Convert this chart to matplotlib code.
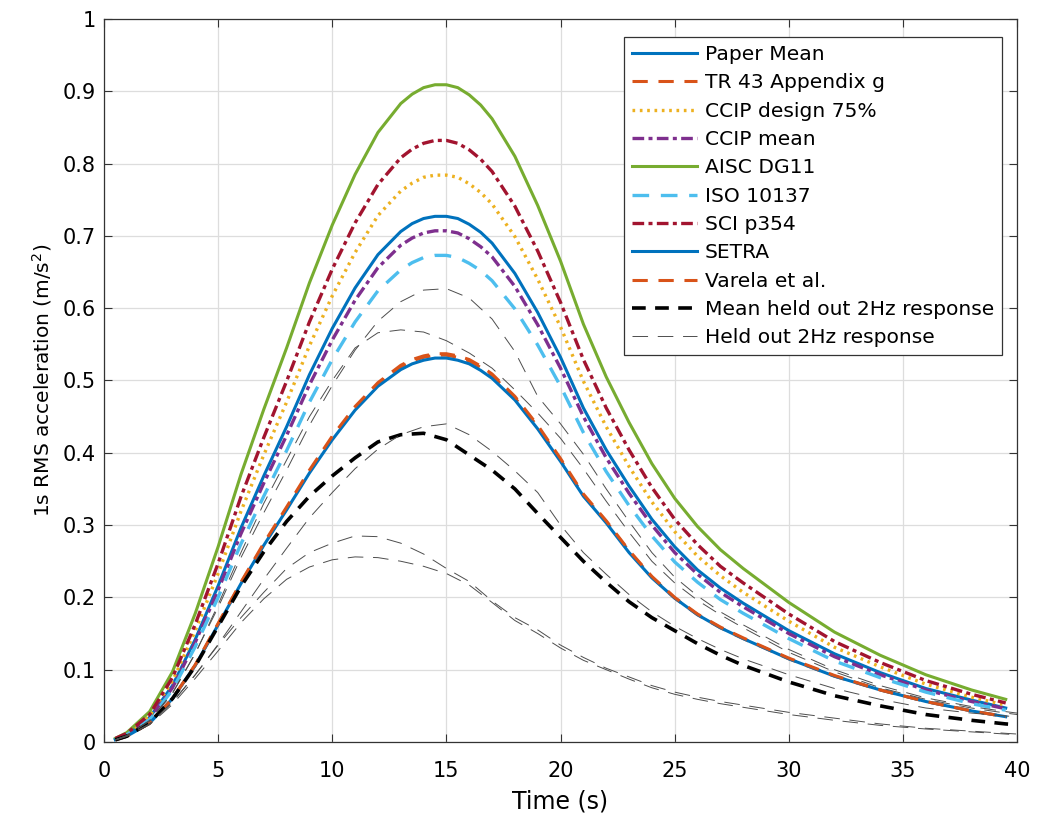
import matplotlib
matplotlib.use("Agg")
import matplotlib.pyplot as plt

plt.rcParams['font.family'] = ['DejaVu Sans']

# temps des courbes de dimensionnement (s)
t_design = [0.5, 1, 2, 3, 4, 5, 6, 7, 8, 9, 10, 11, 12, 13, 13.5, 14, 14.5, 15, 15.5, 16,
            16.5, 17, 18, 19, 20, 21, 22, 23, 24, 25, 26, 27, 28, 30, 32, 34, 36, 38, 39.5]
# temps des reponses mesurees (s)
t_held = [0.5, 1, 2, 3, 4, 5, 6, 7, 8, 9, 10, 11, 12, 13, 14, 15, 16, 17, 18, 19,
          20, 21, 22, 23, 24, 25, 26, 27, 28, 30, 32, 34, 36, 38, 39.5, 40]

paper_mean = [0.004, 0.010, 0.034, 0.078, 0.142, 0.216, 0.296, 0.368, 0.436, 0.508,
              0.572, 0.628, 0.674, 0.706, 0.717, 0.724, 0.727, 0.727, 0.724, 0.716,
              0.705, 0.690, 0.648, 0.594, 0.532, 0.462, 0.404, 0.354, 0.308, 0.270,
              0.238, 0.213, 0.192, 0.154, 0.122, 0.096, 0.074, 0.058, 0.047]
tr43 = [0.003, 0.008, 0.026, 0.060, 0.106, 0.163, 0.220, 0.273, 0.323, 0.374,
        0.421, 0.462, 0.495, 0.519, 0.527, 0.532, 0.535, 0.535, 0.532, 0.527,
        0.518, 0.507, 0.476, 0.436, 0.390, 0.341, 0.305, 0.264, 0.228, 0.199,
        0.176, 0.158, 0.143, 0.115, 0.091, 0.072, 0.056, 0.043, 0.035]
ccip_design = [0.004, 0.011, 0.036, 0.084, 0.154, 0.233, 0.319, 0.397, 0.470, 0.548,
               0.617, 0.677, 0.728, 0.762, 0.773, 0.781, 0.784, 0.784, 0.781, 0.772,
               0.760, 0.744, 0.699, 0.640, 0.574, 0.499, 0.436, 0.381, 0.332, 0.291,
               0.257, 0.230, 0.207, 0.167, 0.131, 0.104, 0.080, 0.062, 0.051]
ccip_mean = [0.004, 0.010, 0.033, 0.075, 0.138, 0.210, 0.288, 0.358, 0.424, 0.494,
             0.556, 0.611, 0.656, 0.687, 0.697, 0.704, 0.707, 0.707, 0.704, 0.696,
             0.685, 0.671, 0.630, 0.577, 0.517, 0.450, 0.393, 0.344, 0.300, 0.262,
             0.232, 0.207, 0.187, 0.150, 0.118, 0.093, 0.072, 0.056, 0.046]
aisc = [0.005, 0.013, 0.042, 0.097, 0.178, 0.270, 0.370, 0.460, 0.545, 0.635,
        0.715, 0.785, 0.843, 0.883, 0.896, 0.905, 0.909, 0.909, 0.905, 0.895,
        0.881, 0.862, 0.810, 0.742, 0.665, 0.578, 0.505, 0.442, 0.385, 0.337,
        0.298, 0.266, 0.240, 0.193, 0.152, 0.120, 0.093, 0.072, 0.059]
iso = [0.004, 0.010, 0.031, 0.072, 0.132, 0.200, 0.274, 0.340, 0.403, 0.470,
       0.529, 0.581, 0.624, 0.653, 0.663, 0.670, 0.673, 0.673, 0.670, 0.662,
       0.652, 0.638, 0.599, 0.549, 0.492, 0.428, 0.374, 0.327, 0.285, 0.249,
       0.221, 0.197, 0.178, 0.143, 0.112, 0.089, 0.069, 0.053, 0.044]
sci = [0.005, 0.012, 0.038, 0.089, 0.163, 0.247, 0.339, 0.421, 0.499, 0.581,
       0.654, 0.718, 0.771, 0.808, 0.820, 0.828, 0.832, 0.832, 0.828, 0.819,
       0.806, 0.789, 0.741, 0.679, 0.608, 0.529, 0.462, 0.404, 0.352, 0.308,
       0.273, 0.243, 0.220, 0.177, 0.139, 0.110, 0.085, 0.066, 0.054]
setra = [0.003, 0.008, 0.026, 0.060, 0.106, 0.162, 0.219, 0.272, 0.321, 0.372,
         0.418, 0.459, 0.492, 0.515, 0.523, 0.528, 0.531, 0.531, 0.528, 0.523,
         0.514, 0.503, 0.473, 0.433, 0.388, 0.340, 0.303, 0.262, 0.227, 0.199,
         0.176, 0.158, 0.143, 0.115, 0.091, 0.072, 0.056, 0.043, 0.035]
varela = [0.003, 0.008, 0.026, 0.060, 0.107, 0.164, 0.221, 0.275, 0.325, 0.376,
          0.423, 0.464, 0.497, 0.521, 0.529, 0.534, 0.537, 0.537, 0.534, 0.529,
          0.520, 0.509, 0.478, 0.438, 0.392, 0.343, 0.306, 0.265, 0.229, 0.200,
          0.177, 0.159, 0.144, 0.116, 0.092, 0.072, 0.056, 0.043, 0.035]

mean_held = [0.003, 0.008, 0.027, 0.060, 0.105, 0.160, 0.215, 0.263, 0.305, 0.340,
             0.368, 0.393, 0.415, 0.425, 0.427, 0.418, 0.397, 0.376, 0.350, 0.316,
             0.283, 0.250, 0.221, 0.194, 0.172, 0.154, 0.136, 0.120, 0.106, 0.083,
             0.064, 0.050, 0.038, 0.030, 0.025, 0.024]
held_1 = [0.003, 0.009, 0.029, 0.067, 0.123, 0.186, 0.255, 0.317, 0.376, 0.438,
          0.493, 0.542, 0.582, 0.609, 0.625, 0.627, 0.614, 0.585, 0.540, 0.478,
          0.440, 0.398, 0.350, 0.305, 0.262, 0.228, 0.202, 0.180, 0.162, 0.128,
          0.100, 0.078, 0.061, 0.049, 0.042, 0.040]
held_2 = [0.003, 0.009, 0.030, 0.068, 0.122, 0.190, 0.262, 0.330, 0.390, 0.450,
          0.500, 0.545, 0.566, 0.570, 0.567, 0.555, 0.538, 0.517, 0.487, 0.455,
          0.420, 0.378, 0.333, 0.290, 0.250, 0.220, 0.196, 0.176, 0.158, 0.124,
          0.097, 0.075, 0.059, 0.047, 0.040, 0.038]
held_3 = [0.003, 0.008, 0.025, 0.055, 0.093, 0.135, 0.180, 0.225, 0.268, 0.310,
          0.345, 0.378, 0.405, 0.425, 0.436, 0.440, 0.425, 0.402, 0.375, 0.345,
          0.300, 0.262, 0.232, 0.204, 0.180, 0.160, 0.143, 0.128, 0.115, 0.093,
          0.074, 0.059, 0.047, 0.040, 0.036, 0.035]
held_4 = [0.003, 0.008, 0.025, 0.055, 0.093, 0.134, 0.172, 0.207, 0.240, 0.262,
          0.275, 0.285, 0.284, 0.275, 0.260, 0.240, 0.222, 0.195, 0.172, 0.155,
          0.134, 0.117, 0.102, 0.090, 0.078, 0.069, 0.062, 0.056, 0.051, 0.041,
          0.033, 0.025, 0.019, 0.015, 0.012, 0.011]
held_5 = [0.003, 0.008, 0.024, 0.052, 0.088, 0.126, 0.165, 0.198, 0.225, 0.242,
          0.252, 0.256, 0.255, 0.250, 0.243, 0.233, 0.217, 0.193, 0.168, 0.150,
          0.130, 0.113, 0.100, 0.087, 0.075, 0.066, 0.059, 0.053, 0.048, 0.038,
          0.030, 0.023, 0.018, 0.014, 0.011, 0.010]

fig = plt.figure(figsize=(10.46, 8.17), dpi=100)
ax = fig.add_axes([0.0994, 0.0918, 0.873, 0.885])

dash = (5, 3.5)
dashdot = (3.5, 1.3, 1.2, 1.3)
ax.plot(t_design, paper_mean, color='#0072BD', lw=2.2, label='Paper Mean')
ax.plot(t_design, tr43, color='#D95319', lw=2.2, dashes=dash, label='TR 43 Appendix g')
ax.plot(t_design, ccip_design, color='#EDB120', lw=2.4, dashes=(0.8, 1.4), label='CCIP design 75%')
ax.plot(t_design, ccip_mean, color='#7E2F8E', lw=2.4, dashes=dashdot, label='CCIP mean')
ax.plot(t_design, aisc, color='#77AC30', lw=2.2, label='AISC DG11')
ax.plot(t_design, iso, color='#4DBEEE', lw=2.4, dashes=dash, label='ISO 10137')
ax.plot(t_design, sci, color='#A2142F', lw=2.4, dashes=dashdot, label='SCI p354')
ax.plot(t_design, setra, color='#0072BD', lw=2.2, label='SETRA')
ax.plot(t_design, varela, color='#D95319', lw=2.2, dashes=dash, label='Varela et al.')
ax.plot(t_held, mean_held, color='black', lw=2.6, dashes=(3.8, 2.6), label='Mean held out 2Hz response')

# reponses individuelles, une seule dans la legende
ax.plot(t_held, held_1, color='0.3', lw=0.7, dashes=(16, 10), label='Held out 2Hz response')
for h in [held_2, held_3, held_4, held_5]:
    ax.plot(t_held, h, color='0.3', lw=0.7, dashes=(16, 10))

ax.set_xlim(0, 40)
ax.set_ylim(0, 1)
ax.set_xticks(range(0, 41, 5))
ax.set_yticks([i / 10 for i in range(11)])
ax.set_yticklabels(['0', '0.1', '0.2', '0.3', '0.4', '0.5', '0.6', '0.7', '0.8', '0.9', '1'])
ax.grid(True, color='#DDDDDD', lw=0.9)
ax.set_axisbelow(True)
ax.tick_params(direction='in', top=True, right=True, labelsize=15, length=6,
               color='#333333')
ax.tick_params(axis='x', pad=14)
ax.tick_params(axis='y', pad=6)
for s in ax.spines.values():
    s.set_color('#333333')
    s.set_linewidth(0.9)

ax.set_xlabel('Time (s)', fontsize=17, labelpad=6)
ax.set_ylabel('1s RMS acceleration (m/s$^2$)', fontsize=14.5, labelpad=6)

leg = ax.legend(loc='upper right', bbox_to_anchor=(0.9836, 0.9751), borderaxespad=0,
                fontsize=14.6, handlelength=3.2, labelspacing=0.46, fancybox=False,
                framealpha=1, edgecolor='#333333', borderpad=0.4, handletextpad=0.4)
leg.get_frame().set_linewidth(0.9)

fig.savefig('out.png', dpi=100)
